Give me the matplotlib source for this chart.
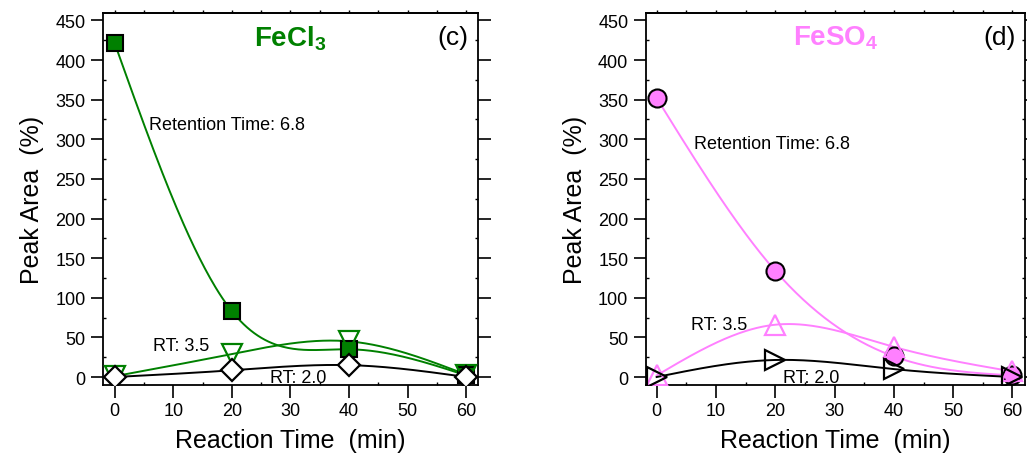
import numpy as np
import matplotlib
matplotlib.use("Agg")
import matplotlib.pyplot as plt
from matplotlib.ticker import MultipleLocator

plt.rcParams['font.family'] = ['Liberation Sans', 'DejaVu Sans']
plt.rcParams['mathtext.fontset'] = 'custom'
plt.rcParams['mathtext.rm'] = 'Liberation Sans'
plt.rcParams['mathtext.bf'] = 'Liberation Sans:bold'
plt.rcParams['mathtext.default'] = 'regular'

# reaction time (min)
times = [0, 20, 40, 60]

# FeCl3 panel (c)
fecl3_rt68 = [421, 83, 35, 2]
fecl3_rt35 = [1, 29, 45, 3]
fecl3_rt20 = [0, 8.5, 15, 0]

# FeSO4 panel (d)
feso4_rt68 = [352, 134, 26, 2]
feso4_rt35 = [2, 66, 38, 7]
feso4_rt20 = [0, 21.5, 10, 0]

GREEN = '#008000'
PINK = '#FF80FF'


def smooth(xs, ys, n=200):
    # natural cubic spline through the points, only used for the connecting line
    xs = np.asarray(xs, float)
    ys = np.asarray(ys, float)
    k = len(xs)
    h = np.diff(xs)
    A = np.zeros((k, k))
    b = np.zeros(k)
    A[0, 0] = 1
    A[-1, -1] = 1
    for i in range(1, k - 1):
        A[i, i - 1] = h[i - 1]
        A[i, i] = 2 * (h[i - 1] + h[i])
        A[i, i + 1] = h[i]
        b[i] = 6 * ((ys[i + 1] - ys[i]) / h[i] - (ys[i] - ys[i - 1]) / h[i - 1])
    M = np.linalg.solve(A, b)
    xx = np.linspace(xs[0], xs[-1], n)
    yy = np.zeros_like(xx)
    for j, x in enumerate(xx):
        i = min(np.searchsorted(xs, x, side='right') - 1, k - 2)
        t1 = xs[i + 1] - x
        t0 = x - xs[i]
        yy[j] = (M[i] * t1 ** 3 + M[i + 1] * t0 ** 3) / (6 * h[i]) \
            + (ys[i] / h[i] - M[i] * h[i] / 6) * t1 \
            + (ys[i + 1] / h[i] - M[i + 1] * h[i] / 6) * t0
    return xx, yy


def style_axes(ax, xmin, xmax):
    ax.set_xlim(xmin, xmax)
    ax.set_ylim(-10, 459)
    ax.xaxis.set_major_locator(MultipleLocator(10))
    ax.yaxis.set_major_locator(MultipleLocator(50))
    ax.yaxis.set_minor_locator(MultipleLocator(25))
    ax.xaxis.set_minor_locator(MultipleLocator(5))
    ax.tick_params(which='major', direction='out', length=9, width=1.2,
                   labelsize=13, left=True, right=True, bottom=True, top=False)
    ax.tick_params(which='minor', direction='in', length=2, width=1,
                   left=True, right=True, bottom=True, top=False)
    for sp in ax.spines.values():
        sp.set_linewidth(1.3)
    sec = ax.secondary_xaxis('top')
    sec.xaxis.set_major_locator(MultipleLocator(5))
    sec.tick_params(direction='out', length=2, width=1, labelsize=0, labeltop=False)
    sec.spines['top'].set_linewidth(1.3)
    ax.set_xlabel('Reaction Time  (min)', fontsize=18, labelpad=6)
    ax.set_ylabel('Peak Area  (%)', fontsize=18, labelpad=8)


fig = plt.figure(figsize=(10.27, 4.6), dpi=100)
ax1 = fig.add_axes([0.1003, 0.161, 0.3651, 0.808])
ax2 = fig.add_axes([0.6287, 0.161, 0.3693, 0.808])

# panel (c)
for ys, col in [(fecl3_rt68, GREEN), (fecl3_rt35, GREEN), (fecl3_rt20, 'black')]:
    xx, yy = smooth(times, ys)
    ax1.plot(xx, yy, color=col, lw=1.4, zorder=2)
ax1.plot(times, fecl3_rt68, 's', ms=11, mfc=GREEN, mec='black', mew=1.5, zorder=3)
ax1.plot(times, fecl3_rt35, 'v', ms=14, mfc='none', mec=GREEN, mew=1.6, zorder=3)
ax1.plot(times, fecl3_rt20, 'D', ms=11, mfc='white', mec='black', mew=1.6, zorder=4)
ax1.text(5.8, 319, 'Retention Time: 6.8', fontsize=13, va='center')
ax1.text(6.5, 40, 'RT: 3.5', fontsize=13, va='center')
ax1.text(26.5, -1, 'RT: 2.0', fontsize=13, va='center')
ax1.text(0.5, 0.935, r'FeCl$_3$', transform=ax1.transAxes, fontsize=20,
         fontweight='bold', color=GREEN, ha='center', va='center')
ax1.text(0.975, 0.935, '(c)', transform=ax1.transAxes, fontsize=19,
         ha='right', va='center')
style_axes(ax1, -2, 62)

# panel (d)
for ys, col in [(feso4_rt68, PINK), (feso4_rt35, PINK), (feso4_rt20, 'black')]:
    xx, yy = smooth(times, ys)
    ax2.plot(xx, yy, color=col, lw=1.4, zorder=2)
ax2.plot(times, feso4_rt68, 'o', ms=13, mfc=PINK, mec='black', mew=1.5, zorder=3)
ax2.plot(times, feso4_rt35, '^', ms=14, mfc='none', mec=PINK, mew=1.6, zorder=3)
ax2.plot(times, feso4_rt20, '>', ms=14, mfc='none', mec='black', mew=1.6, zorder=4)
ax2.text(6.3, 295, 'Retention Time: 6.8', fontsize=13, va='center')
ax2.text(5.8, 66, 'RT: 3.5', fontsize=13, va='center')
ax2.text(21.3, 0, 'RT: 2.0', fontsize=13, va='center')
ax2.text(0.5, 0.935, r'FeSO$_4$', transform=ax2.transAxes, fontsize=20,
         fontweight='bold', color=PINK, ha='center', va='center')
ax2.text(0.975, 0.935, '(d)', transform=ax2.transAxes, fontsize=19,
         ha='right', va='center')
style_axes(ax2, -1.85, 62.1)

fig.savefig('out.png', dpi=100)
